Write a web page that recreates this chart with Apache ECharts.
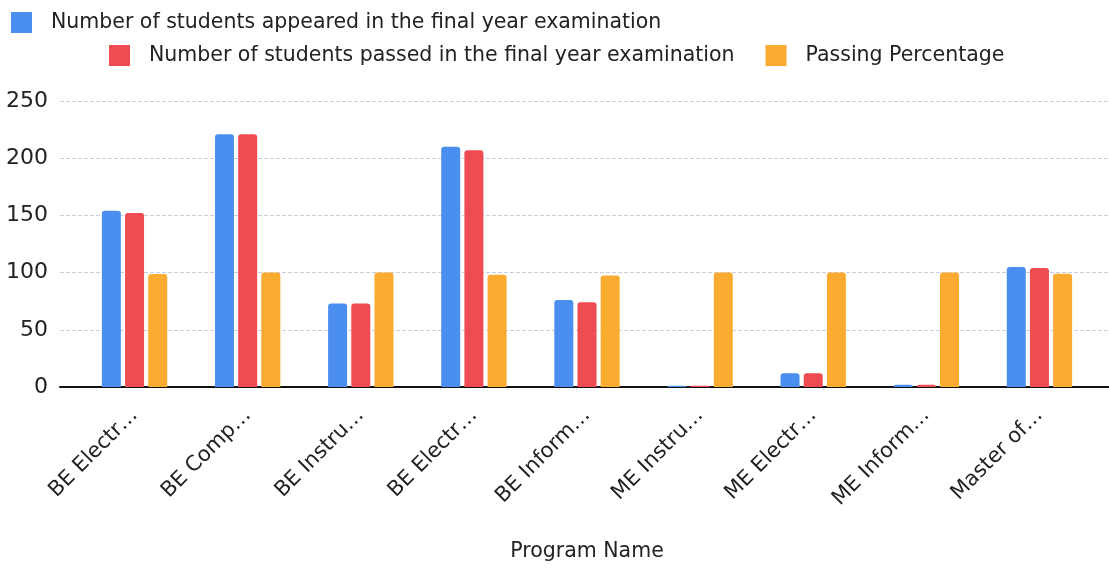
<!DOCTYPE html>
<html>
<head>
<meta charset="utf-8">
<script src="https://cdn.jsdelivr.net/npm/echarts@6/dist/echarts.min.js"></script>
<style>
  html, body { margin: 0; padding: 0; background: #fff; }
  #main { width: 1109px; height: 568px; }
</style>
</head>
<body>
<div id="main"></div>
<script>
// data
var programs = ['BE Electr…', 'BE Comp…', 'BE Instru…', 'BE Electr…', 'BE Inform…',
                'ME Instru…', 'ME Electr…', 'ME Inform…', 'Master of…'];
var appeared = [154, 221, 73, 210, 76, 1, 12, 2, 105];
var passed = [152, 221, 73, 207, 74, 1, 12, 2, 104];
var percentage = [98.7, 100, 100, 98.1, 97.4, 100, 100, 100, 99];
var yTicks = [0, 50, 100, 150, 200, 250];

var names = [
    'Number of students appeared in the final year examination',
    'Number of students passed in the final year examination',
    'Passing Percentage'
];
var colors = ['#4a8ef0', '#ef4b53', '#fbab30'];
var font = 'DejaVu Sans';

var myChart = echarts.init(document.getElementById('main'));

function bar(name, values, color) {
    return {
        name: name,
        type: 'bar',
        xAxisIndex: 1,
        yAxisIndex: 1,
        data: values,
        barWidth: 19,
        barGap: '22%',
        itemStyle: {color: color, borderRadius: [3, 3, 0, 0]}
    };
}

var legendText = {
    fontFamily: font,
    fontSize: 20.5,
    color: '#222',
    padding: [0, 0, 0, 14]
};

var option = {
    animation: false,
    textStyle: {fontFamily: font},
    legend: [
        {
            data: [names[0]],
            left: 6, top: 7,
            itemWidth: 21, itemHeight: 21,
            icon: 'rect',
            textStyle: legendText
        },
        {
            data: [names[1], names[2]],
            left: 104, top: 40,
            itemWidth: 21, itemHeight: 21,
            itemGap: 31,
            icon: 'rect',
            textStyle: legendText
        }
    ],
    // grid 0 draws the frame (gridlines, zero line, y labels), grid 1 the bars
    grid: [
        {left: 60, right: 0, top: 101, bottom: 181, outerBoundsMode: 'none', containLabel: false},
        {left: 78, right: 13, top: 101, bottom: 181, outerBoundsMode: 'none', containLabel: false}
    ],
    xAxis: [
        {
            gridIndex: 0,
            type: 'value',
            min: 0, max: 1,
            axisLabel: {show: false},
            axisTick: {show: false},
            splitLine: {show: false},
            axisLine: {show: true, lineStyle: {color: '#111', width: 2}}
        },
        {
            gridIndex: 1,
            type: 'category',
            data: programs,
            name: 'Program Name',
            nameLocation: 'middle',
            nameGap: 154,
            nameTextStyle: {fontFamily: font, fontSize: 20.5, color: '#222'},
            axisTick: {show: false},
            axisLine: {show: false},
            axisLabel: {
                rotate: 45,
                interval: 0,
                fontFamily: font,
                fontSize: 21,
                color: '#222',
                margin: 25
            }
        }
    ],
    yAxis: [
        {
            gridIndex: 0,
            type: 'value',
            min: yTicks[0],
            max: yTicks[yTicks.length - 1],
            interval: 50,
            axisLine: {show: false},
            axisTick: {show: false},
            axisLabel: {fontFamily: font, fontSize: 22, color: '#222', margin: 12},
            splitLine: {lineStyle: {color: '#ccceE0', width: 1, type: 'dashed'}}
        },
        {
            gridIndex: 1,
            type: 'value',
            min: yTicks[0],
            max: yTicks[yTicks.length - 1],
            interval: 50,
            show: false,
            splitLine: {show: false}
        }
    ],
    series: [
        bar(names[0], appeared, colors[0]),
        bar(names[1], passed, colors[1]),
        bar(names[2], percentage, colors[2])
    ]
};

myChart.setOption(option);
</script>
</body>
</html>
